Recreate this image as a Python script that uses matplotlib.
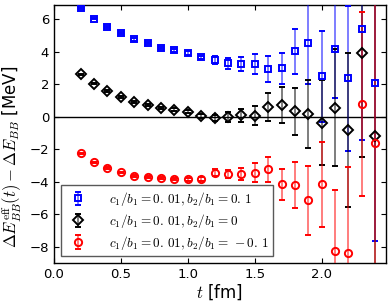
import matplotlib
matplotlib.use("Agg")
import matplotlib.pyplot as plt
import numpy as np

# --- dane ---
t = [0.2, 0.3, 0.4, 0.5, 0.6, 0.7, 0.8, 0.9, 1.0, 1.1, 1.2, 1.3,
     1.4, 1.5, 1.6, 1.7, 1.8, 1.9, 2.0, 2.1, 2.2, 2.3, 2.4]

# b2/b1 = 0.1 (niebieskie kwadraty)
dE_blue = [6.71, 6.05, 5.53, 5.14, 4.77, 4.55, 4.24, 4.09, 3.93, 3.66, 3.52, 3.31,
           3.25, 3.25, 2.94, 3.00, 4.05, 4.55, 2.51, 4.16, 2.39, 5.39, 2.06]
err_blue = [0.05, 0.05, 0.06, 0.06, 0.07, 0.07, 0.08, 0.09, 0.10, 0.12, 0.25, 0.34,
            0.44, 0.64, 0.82, 0.96, 1.38, 2.50, 2.80, 3.00, 4.47, 6.80, 9.70]

# b2/b1 = 0 (czarne romby)
dE_black = [2.61, 2.04, 1.60, 1.23, 0.93, 0.74, 0.54, 0.45, 0.31, 0.04, -0.08, 0.00,
            0.10, 0.06, 0.60, 0.72, 0.33, 0.17, -0.35, 0.57, -0.80, 3.93, -1.21]
err_black = [0.04, 0.04, 0.05, 0.05, 0.06, 0.06, 0.07, 0.08, 0.10, 0.12, 0.20, 0.31,
             0.41, 0.59, 0.84, 1.09, 1.45, 2.10, 2.60, 3.60, 4.75, 6.40, 8.50]

# b2/b1 = -0.1 (czerwone kółka)
dE_red = [-2.24, -2.80, -3.17, -3.42, -3.62, -3.72, -3.79, -3.83, -3.85, -3.81, -3.44, -3.52,
          -3.54, -3.44, -3.23, -4.16, -4.22, -5.14, -4.16, -8.27, -8.37, 0.78, -1.62]
err_red = [0.04, 0.04, 0.05, 0.05, 0.06, 0.06, 0.07, 0.08, 0.10, 0.12, 0.20, 0.25,
           0.38, 0.57, 0.77, 0.96, 1.41, 2.11, 2.61, 3.77, 5.30, 5.66, 9.00]

labels = [r"$c_1/b_1=0.\,01, b_2/b_1=0.\,1$",
          r"$c_1/b_1=0.\,01, b_2/b_1=0$",
          r"$c_1/b_1=0.\,01, b_2/b_1=\,-0.\,1$"]

plt.rcParams["mathtext.fontset"] = "cm"
plt.rcParams["font.family"] = "DejaVu Sans"

fig = plt.figure(figsize=(3.91, 3.05), dpi=100)
ax = fig.add_axes([0.138, 0.138, 0.849, 0.846])

ax.axhline(0, color="k", lw=1.0, zorder=1)

series = [
    (dE_blue, err_blue, "s", "b", 5.0),
    (dE_black, err_black, "D", "k", 5.0),
    (dE_red, err_red, "o", "r", 5.2),
]
for (y, e, m, c, ms), lab in zip(series, labels):
    cont = ax.errorbar(t, y, yerr=e, fmt=m, color=c, mfc="none", mec=c, mew=1.4,
                       ms=ms, ecolor=c, elinewidth=1.3, capsize=2.5, capthick=1.3,
                       label=lab, zorder=3)
    for bl in cont[2]:
        bl.set_alpha(0.55)

ax.set_xlim(0, 2.48)
ax.set_ylim(-9, 6.9)
ax.set_xticks([0.0, 0.5, 1.0, 1.5, 2.0])
ax.set_yticks([-8, -6, -4, -2, 0, 2, 4, 6])
ax.tick_params(direction="in", top=True, right=True, labelsize=9.5, length=3.5, width=0.8)
ax.set_xticklabels(["0.0", "0.5", "1.0", "1.5", "2.0"])
ax.set_yticklabels(["\u22128", "\u22126", "\u22124", "\u22122", "0", "2", "4", "6"])

ax.set_xlabel(r"$t$ [fm]", fontsize=12, labelpad=1)
ax.set_ylabel(r"$\Delta E^{\rm eff}_{BB}(t) - \Delta E_{BB}$ [MeV]", fontsize=12)
ax.yaxis.set_label_coords(-0.09, 0.41)

leg = ax.legend(loc="lower left", fontsize=9.5, fancybox=False, framealpha=1,
                edgecolor="0.35", borderaxespad=0.5, labelspacing=0.3,
                handletextpad=1.3, borderpad=0.35, handlelength=2.0)
leg.get_frame().set_linewidth(1.0)

for s in ax.spines.values():
    s.set_linewidth(1.0)

fig.savefig("out.png", dpi=100)
